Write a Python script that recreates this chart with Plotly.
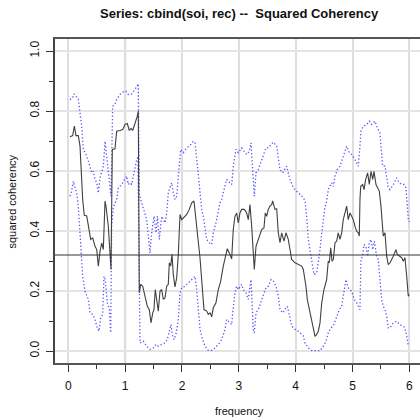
import plotly.graph_objects as go

# Coherency estimate (black line)
coh_f = [0.030,0.077,0.106,0.135,0.176,0.206,0.253,0.281,0.324,0.352,0.394,0.429,0.470,0.500,0.528,0.558,0.588,0.616,0.646,0.663,0.704,0.751,0.774,0.821,0.851,0.909,0.957,0.997,1.038,1.073,1.103,1.133,1.173,1.214,1.231,1.249,1.274,1.309,1.349,1.390,1.425,1.455,1.485,1.507,1.530,1.555,1.583,1.613,1.643,1.671,1.701,1.731,1.759,1.777,1.801,1.824,1.847,1.877,1.907,1.935,1.965,1.995,2.023,2.083,2.128,2.171,2.211,2.259,2.287,2.317,2.364,2.387,2.435,2.463,2.493,2.522,2.551,2.598,2.639,2.681,2.726,2.774,2.797,2.832,2.874,2.902,2.932,2.962,2.990,3.020,3.050,3.096,3.138,3.166,3.196,3.226,3.254,3.272,3.302,3.342,3.372,3.402,3.442,3.465,3.490,3.518,3.548,3.578,3.595,3.636,3.666,3.694,3.724,3.754,3.794,3.829,3.870,3.900,3.929,3.988,4.046,4.106,4.134,4.181,4.204,4.252,4.299,4.340,4.370,4.398,4.428,4.458,4.498,4.545,4.573,4.591,4.616,4.639,4.662,4.692,4.721,4.749,4.779,4.809,4.837,4.867,4.897,4.925,4.955,4.985,5.013,5.043,5.073,5.101,5.119,5.131,5.144,5.179,5.202,5.231,5.266,5.295,5.325,5.355,5.377,5.413,5.442,5.471,5.500,5.530,5.541,5.571,5.601,5.629,5.659,5.717,5.764,5.787,5.835,5.865,5.893,5.923,5.953,5.981,5.998]
coh_v = [0.714,0.718,0.750,0.718,0.718,0.683,0.505,0.452,0.450,0.416,0.372,0.377,0.349,0.338,0.283,0.333,0.360,0.338,0.500,0.483,0.416,0.272,0.672,0.674,0.733,0.735,0.738,0.755,0.758,0.735,0.742,0.735,0.758,0.783,0.800,0.194,0.222,0.216,0.183,0.149,0.138,0.094,0.127,0.138,0.205,0.172,0.133,0.199,0.205,0.172,0.177,0.216,0.222,0.294,0.283,0.322,0.255,0.214,0.244,0.322,0.455,0.438,0.444,0.455,0.472,0.494,0.500,0.416,0.370,0.310,0.194,0.138,0.133,0.122,0.127,0.114,0.144,0.161,0.205,0.233,0.283,0.322,0.341,0.327,0.307,0.405,0.449,0.460,0.427,0.460,0.472,0.472,0.460,0.438,0.488,0.416,0.338,0.272,0.349,0.372,0.394,0.405,0.410,0.460,0.449,0.472,0.483,0.488,0.500,0.472,0.474,0.394,0.361,0.394,0.366,0.394,0.372,0.338,0.305,0.294,0.288,0.283,0.272,0.216,0.172,0.127,0.083,0.049,0.055,0.066,0.094,0.161,0.205,0.238,0.299,0.294,0.344,0.299,0.305,0.361,0.366,0.394,0.372,0.394,0.438,0.460,0.483,0.438,0.460,0.449,0.438,0.416,0.399,0.394,0.383,0.505,0.549,0.555,0.538,0.572,0.594,0.555,0.599,0.572,0.599,0.555,0.544,0.533,0.483,0.416,0.383,0.394,0.316,0.288,0.294,0.316,0.338,0.322,0.316,0.311,0.299,0.311,0.249,0.183,0.188]

# Upper confidence band (blue dotted)
up_f = [0.030,0.077,0.100,0.148,0.176,0.206,0.236,0.264,0.311,0.352,0.382,0.412,0.440,0.470,0.500,0.528,0.558,0.588,0.616,0.646,0.675,0.704,0.734,0.751,0.781,0.821,0.851,0.909,0.967,1.015,1.055,1.115,1.173,1.214,1.231,1.249,1.279,1.319,1.379,1.407,1.437,1.467,1.507,1.543,1.566,1.601,1.643,1.701,1.731,1.759,1.789,1.819,1.847,1.877,1.907,1.953,1.977,2.023,2.083,2.141,2.199,2.229,2.259,2.287,2.317,2.347,2.375,2.405,2.435,2.480,2.522,2.551,2.611,2.668,2.698,2.726,2.786,2.844,2.874,2.902,2.950,2.990,3.050,3.091,3.138,3.184,3.214,3.232,3.254,3.272,3.302,3.342,3.384,3.430,3.478,3.518,3.566,3.606,3.666,3.694,3.724,3.771,3.812,3.842,3.870,3.900,3.958,4.018,4.076,4.134,4.164,4.193,4.222,4.282,4.322,4.370,4.398,4.428,4.458,4.487,4.517,4.545,4.573,4.634,4.662,4.692,4.732,4.779,4.837,4.897,4.942,4.985,5.043,5.101,5.131,5.148,5.189,5.249,5.295,5.337,5.395,5.435,5.482,5.500,5.530,5.571,5.601,5.629,5.659,5.717,5.776,5.822,5.865,5.905,5.940,5.953,5.964,5.981,5.998]
up_v = [0.838,0.844,0.857,0.844,0.840,0.794,0.749,0.672,0.655,0.633,0.616,0.594,0.599,0.572,0.561,0.527,0.577,0.594,0.616,0.699,0.649,0.616,0.549,0.516,0.816,0.822,0.838,0.855,0.864,0.866,0.855,0.857,0.872,0.888,0.891,0.520,0.500,0.472,0.438,0.383,0.327,0.394,0.449,0.394,0.449,0.372,0.449,0.427,0.460,0.527,0.549,0.561,0.527,0.505,0.516,0.638,0.672,0.661,0.677,0.685,0.699,0.694,0.649,0.590,0.527,0.472,0.449,0.405,0.372,0.361,0.355,0.394,0.438,0.494,0.505,0.527,0.572,0.561,0.555,0.616,0.672,0.661,0.677,0.666,0.655,0.666,0.694,0.638,0.549,0.516,0.594,0.605,0.627,0.649,0.677,0.677,0.688,0.696,0.683,0.649,0.605,0.594,0.605,0.616,0.594,0.572,0.544,0.533,0.522,0.511,0.500,0.450,0.372,0.305,0.255,0.261,0.294,0.338,0.394,0.438,0.480,0.500,0.538,0.561,0.549,0.583,0.605,0.616,0.649,0.683,0.661,0.655,0.638,0.616,0.683,0.733,0.749,0.755,0.766,0.755,0.766,0.744,0.727,0.672,0.616,0.616,0.583,0.544,0.538,0.555,0.577,0.561,0.555,0.555,0.544,0.505,0.483,0.438,0.430]

# Lower confidence band (blue dotted)
lo_f = [0.030,0.060,0.088,0.118,0.148,0.176,0.218,0.253,0.294,0.352,0.382,0.429,0.470,0.510,0.540,0.570,0.605,0.628,0.651,0.686,0.721,0.746,0.763,0.792,0.851,0.880,0.939,0.997,1.027,1.055,1.085,1.115,1.143,1.173,1.203,1.226,1.249,1.261,1.319,1.379,1.437,1.495,1.543,1.583,1.643,1.701,1.741,1.777,1.806,1.829,1.859,1.894,1.935,1.965,1.995,2.053,2.111,2.171,2.229,2.259,2.287,2.317,2.364,2.405,2.463,2.522,2.580,2.639,2.698,2.756,2.786,2.832,2.874,2.892,2.932,2.962,2.990,3.050,3.078,3.125,3.166,3.214,3.232,3.254,3.272,3.302,3.342,3.384,3.430,3.478,3.518,3.566,3.606,3.653,3.694,3.724,3.771,3.812,3.852,3.887,3.929,3.988,4.046,4.106,4.134,4.164,4.222,4.282,4.370,4.428,4.487,4.534,4.573,4.616,4.662,4.721,4.768,4.809,4.849,4.884,4.925,4.985,5.031,5.073,5.101,5.131,5.148,5.179,5.202,5.237,5.266,5.295,5.325,5.355,5.383,5.425,5.453,5.482,5.512,5.541,5.571,5.601,5.629,5.659,5.717,5.776,5.835,5.893,5.923,5.953,5.981]
lo_v = [0.516,0.533,0.566,0.544,0.527,0.483,0.338,0.249,0.199,0.172,0.127,0.122,0.105,0.077,0.066,0.111,0.122,0.249,0.238,0.161,0.138,0.061,0.416,0.480,0.505,0.544,0.555,0.577,0.583,0.555,0.561,0.555,0.583,0.605,0.638,0.649,0.030,0.027,0.033,0.016,0.005,0.010,0.022,0.016,0.022,0.027,0.038,0.072,0.088,0.055,0.038,0.055,0.105,0.194,0.211,0.216,0.227,0.238,0.249,0.205,0.130,0.072,0.038,0.016,0.002,0.002,0.010,0.022,0.038,0.072,0.105,0.094,0.088,0.127,0.194,0.216,0.205,0.222,0.205,0.194,0.172,0.238,0.161,0.072,0.061,0.127,0.138,0.161,0.183,0.211,0.216,0.238,0.233,0.216,0.183,0.138,0.127,0.138,0.149,0.122,0.083,0.072,0.066,0.055,0.050,0.027,0.010,0.001,0.001,0.001,0.016,0.033,0.061,0.077,0.083,0.111,0.138,0.149,0.205,0.238,0.211,0.199,0.172,0.161,0.149,0.138,0.305,0.316,0.355,0.349,0.316,0.361,0.372,0.338,0.366,0.316,0.305,0.249,0.172,0.149,0.138,0.116,0.077,0.077,0.094,0.099,0.088,0.083,0.077,0.049,0.016]

threshold = 0.32
x_ticks = [0, 1, 2, 3, 4, 5, 6]
y_ticks = [0.0, 0.2, 0.4, 0.6, 0.8, 1.0]
y_tick_text = ["0.0", "0.2", "0.4", "0.6", "0.8", "1.0"]

FONT = "Liberation Sans, Arial, Helvetica, sans-serif"
BLUE = "rgba(40,40,255,0.8)"

fig = go.Figure()
fig.add_trace(go.Scatter(x=up_f, y=up_v, mode="lines",
                         line=dict(color=BLUE, width=1.3, dash="1.3px,2.2px"), hoverinfo="skip"))
fig.add_trace(go.Scatter(x=lo_f, y=lo_v, mode="lines",
                         line=dict(color=BLUE, width=1.3, dash="1.3px,2.2px"), hoverinfo="skip"))
fig.add_trace(go.Scatter(x=coh_f, y=coh_v, mode="lines",
                         line=dict(color="#404040", width=1.1), hoverinfo="skip"))

# darker grid line at frequency 1
fig.add_shape(type="line", xref="x", yref="paper", x0=1, x1=1, y0=0, y1=1,
              line=dict(color="#c6c6c6", width=2), layer="below")
# significance threshold
fig.add_shape(type="line", xref="paper", yref="y", x0=0, x1=1, y0=threshold, y1=threshold,
              line=dict(color="#333333", width=1.1))

fig.update_layout(
    width=420, height=417,
    margin=dict(l=55, r=0, t=39, b=54),
    paper_bgcolor="white", plot_bgcolor="white",
    showlegend=False,
    font=dict(family=FONT, size=12, color="#111"),
    xaxis=dict(range=[-0.234, 6.187], tickvals=x_ticks, ticks="outside", ticklen=7,
               tickcolor="#333", tickwidth=1, showgrid=True, gridcolor="#dedede", gridwidth=2,
               zeroline=False, showline=True, linecolor="#555", linewidth=1.5, mirror=True,
               tickfont=dict(size=12, color="#111"), ticklabelstandoff=4,
               minor=dict(ticks="outside", ticklen=4, dtick=0.5, tick0=0, tickcolor="#333", showgrid=False)),
    yaxis=dict(range=[-0.04, 1.04], tickvals=y_ticks, ticktext=y_tick_text, ticks="outside", ticklen=7,
               tickcolor="#333", tickwidth=1, showgrid=True, gridcolor="#e4e4e4", gridwidth=2,
               zeroline=False, showline=True, linecolor="#444", linewidth=1.5,
               tickangle=-90, tickfont=dict(size=12, color="#111"), ticklabelstandoff=2,
               minor=dict(ticks="outside", ticklen=4, dtick=0.1, tick0=0, tickcolor="#333", showgrid=False)),
    annotations=[
        dict(text="<b>Series: cbind(soi, rec) --  Squared Coherency</b>", x=239.5/420, y=1 - 13.5/417,
             xref="paper", yref="paper", xanchor="center", yanchor="middle", showarrow=False,
             font=dict(size=13, color="#111", family=FONT)),
        dict(text="frequency", x=239.5/420, y=1 - 411/417, xref="paper", yref="paper",
             xanchor="center", yanchor="middle", showarrow=False, font=dict(size=11, color="#111", family=FONT)),
        dict(text="squared coherency", x=11/420, y=1 - 201.5/417, xref="paper", yref="paper",
             xanchor="center", yanchor="middle", showarrow=False, textangle=-90,
             font=dict(size=11, color="#111", family=FONT)),
    ],
)
# annotations positioned in page coordinates; convert to plot-area paper coordinates
H_PLOT = 417 - 39 - 54
W_PLOT = 420 - 55
for a in fig.layout.annotations:
    px = a.x * 420
    py = (1 - a.y) * 417
    a.x = (px - 55) / W_PLOT
    a.y = 1 - (py - 39) / H_PLOT

fig.write_html("out.html")
